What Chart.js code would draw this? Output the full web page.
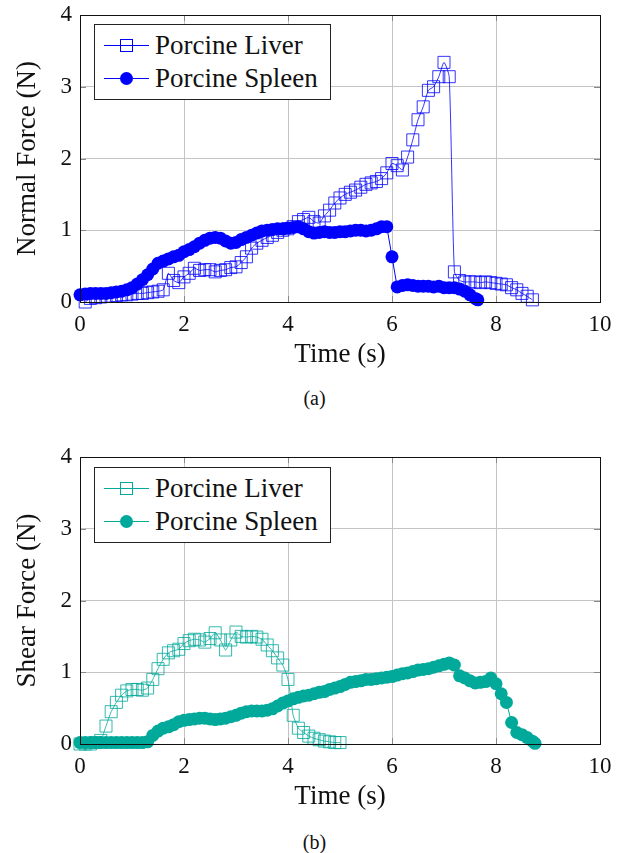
<!DOCTYPE html>
<html>
<head>
<meta charset="utf-8">
<script src="https://cdn.jsdelivr.net/npm/chart.js@4.4.1/dist/chart.umd.min.js"></script>
<style>
  body { margin: 0; background: #fff; width: 629px; height: 853px; position: relative; overflow: hidden; font-family: "Liberation Serif", serif; }
  .plot { position: absolute; left: 0; width: 629px; height: 380px; }
  .legend { position: absolute; left: 94px; width: 235px; height: 74px; border: 1px solid #222; background: #fff; }
  .legend .row { position: absolute; left: 0; height: 33px; width: 235px; }
  .legend svg { position: absolute; left: 7px; top: 0; }
  .legend span { position: absolute; left: 60px; top: 0; font-size: 27px; line-height: 33px; color: #111; white-space: nowrap; }
  .caption { position: absolute; left: 0; width: 629px; text-align: center; font-size: 20px; color: #111; }
</style>
</head>
<body>

<div class="plot" style="top:0"><canvas id="normal-chart"></canvas></div>
<div class="plot" style="top:442px"><canvas id="shear-chart"></canvas></div>

<div class="legend" style="top:24px" id="legend-a"></div>
<div class="legend" style="top:467px" id="legend-b"></div>

<div class="caption" style="top:387px">(a)</div>
<div class="caption" style="top:831px">(b)</div>

<script>
// (a) normal force
const normalLiverT = [0.1,0.2,0.3,0.4,0.5,0.6,0.7,0.8,0.9,1.0,1.1,1.2,1.3,1.4,1.5,1.6,1.7,1.8,1.9,2.0,2.1,2.2,2.3,2.4,2.5,2.6,2.7,2.8,2.9,3.0,3.1,3.2,3.3,3.4,3.5,3.6,3.7,3.8,3.9,4.0,4.1,4.2,4.3,4.4,4.5,4.6,4.7,4.8,4.9,5.0,5.1,5.2,5.3,5.4,5.5,5.6,5.7,5.8,5.9,6.0,6.1,6.2,6.3,6.4,6.5,6.6,6.7,6.8,6.9,7.0,7.1,7.2,7.3,7.4,7.5,7.6,7.7,7.8,7.9,8.0,8.1,8.2,8.3,8.4,8.5,8.6,8.7];
const normalLiver = [0.00,0.05,0.06,0.07,0.08,0.08,0.09,0.10,0.10,0.11,0.12,0.12,0.13,0.14,0.15,0.17,0.40,0.30,0.27,0.35,0.40,0.47,0.44,0.45,0.45,0.42,0.44,0.45,0.48,0.49,0.55,0.63,0.75,0.82,0.86,0.90,0.93,0.97,1.00,1.02,1.05,1.12,1.15,1.18,1.12,1.10,1.20,1.28,1.38,1.45,1.50,1.53,1.56,1.60,1.64,1.66,1.68,1.72,1.80,1.93,1.90,1.84,2.02,2.26,2.54,2.72,2.95,3.00,3.14,3.34,3.14,0.42,0.30,0.28,0.28,0.28,0.27,0.28,0.27,0.26,0.25,0.24,0.20,0.17,0.12,0.08,0.03];

const normalSpleenT = [0.0,0.1,0.2,0.3,0.4,0.5,0.6,0.7,0.8,0.9,1.0,1.1,1.2,1.3,1.4,1.5,1.6,1.7,1.8,1.9,2.0,2.1,2.2,2.3,2.4,2.5,2.6,2.7,2.8,2.9,3.0,3.1,3.2,3.3,3.4,3.5,3.6,3.7,3.8,3.9,4.0,4.1,4.2,4.3,4.4,4.5,4.6,4.7,4.8,4.9,5.0,5.1,5.2,5.3,5.4,5.5,5.6,5.7,5.8,5.9,6.0,6.1,6.2,6.3,6.4,6.5,6.6,6.7,6.8,6.9,7.0,7.1,7.2,7.3,7.4,7.5,7.6,7.65];
const normalSpleen = [0.10,0.11,0.12,0.12,0.12,0.12,0.13,0.14,0.15,0.17,0.20,0.25,0.31,0.38,0.46,0.54,0.57,0.60,0.63,0.65,0.70,0.73,0.77,0.82,0.86,0.89,0.90,0.89,0.85,0.82,0.83,0.87,0.90,0.93,0.96,0.99,1.00,1.01,1.02,1.02,1.03,1.04,1.05,1.02,0.98,0.96,0.97,0.98,0.97,0.97,0.98,0.98,0.99,1.00,1.00,0.99,1.00,1.02,1.05,1.05,0.63,0.21,0.23,0.24,0.23,0.22,0.22,0.22,0.21,0.22,0.20,0.20,0.20,0.18,0.15,0.10,0.05,0.03];

// (b) shear force
const shearLiverT = [0.0,0.1,0.2,0.3,0.4,0.5,0.6,0.7,0.8,0.9,1.0,1.1,1.2,1.3,1.4,1.5,1.6,1.7,1.8,1.9,2.0,2.1,2.2,2.3,2.4,2.5,2.6,2.7,2.8,2.9,3.0,3.1,3.2,3.3,3.4,3.5,3.6,3.7,3.8,3.9,4.0,4.1,4.2,4.3,4.4,4.5,4.6,4.7,4.8,4.9,5.0];
const shearLiver = [0.00,0.00,0.00,0.02,0.05,0.25,0.45,0.58,0.68,0.74,0.76,0.76,0.75,0.78,0.90,1.05,1.18,1.27,1.30,1.32,1.40,1.44,1.46,1.45,1.42,1.47,1.55,1.45,1.31,1.45,1.56,1.50,1.49,1.50,1.49,1.46,1.38,1.30,1.20,1.10,0.90,0.40,0.22,0.16,0.11,0.08,0.06,0.04,0.03,0.02,0.02];

const shearSpleenT = [0.0,0.1,0.2,0.3,0.4,0.5,0.6,0.7,0.8,0.9,1.0,1.1,1.2,1.3,1.4,1.5,1.6,1.7,1.8,1.9,2.0,2.1,2.2,2.3,2.4,2.5,2.6,2.7,2.8,2.9,3.0,3.1,3.2,3.3,3.4,3.5,3.6,3.7,3.8,3.9,4.0,4.1,4.2,4.3,4.4,4.5,4.6,4.7,4.8,4.9,5.0,5.1,5.2,5.3,5.4,5.5,5.6,5.7,5.8,5.9,6.0,6.1,6.2,6.3,6.4,6.5,6.6,6.7,6.8,6.9,7.0,7.1,7.2,7.3,7.4,7.5,7.6,7.7,7.8,7.9,8.0,8.1,8.2,8.3,8.4,8.5,8.6,8.7,8.75];
const shearSpleen = [0.02,0.02,0.02,0.02,0.02,0.02,0.02,0.02,0.02,0.02,0.02,0.02,0.02,0.03,0.12,0.18,0.22,0.24,0.27,0.31,0.33,0.34,0.35,0.36,0.36,0.35,0.34,0.35,0.36,0.38,0.40,0.43,0.45,0.46,0.46,0.46,0.47,0.49,0.53,0.57,0.60,0.63,0.65,0.67,0.68,0.70,0.72,0.73,0.76,0.78,0.80,0.83,0.86,0.87,0.88,0.90,0.90,0.91,0.92,0.93,0.94,0.96,0.98,0.99,1.01,1.03,1.04,1.05,1.07,1.09,1.11,1.13,1.10,0.95,0.92,0.88,0.85,0.86,0.87,0.92,0.84,0.70,0.58,0.30,0.16,0.13,0.09,0.04,0.01];

const xTicks = [0, 2, 4, 6, 8, 10];
const yTicks = [0, 1, 2, 3, 4];
const seriesNames = ['Porcine Liver', 'Porcine Spleen'];

const BLUE = '#0000ff';
const TEAL = '#00a99a';
const SERIF = '"Liberation Serif", "Times New Roman", serif';

function pairs(ts, vs) {
    return ts.map((t, i) => ({ x: t, y: vs[i] }));
}

function fade(hex, a) {
    const n = parseInt(hex.slice(1), 16);
    return `rgba(${n >> 16}, ${(n >> 8) & 255}, ${n & 255}, ${a})`;
}

// frame and inward tick marks like pgfplots
const axisFrame = {
    id: 'axisFrame',
    beforeDatasetsDraw(chart) {
        const { ctx, chartArea: a, scales: { x, y } } = chart;
        ctx.save();
        ctx.strokeStyle = '#888';
        ctx.lineWidth = 1;
        ctx.beginPath();
        xTicks.forEach(v => {
            const px = Math.round(x.getPixelForValue(v)) + 0.5;
            ctx.moveTo(px, a.top); ctx.lineTo(px, a.top + 6);
            ctx.moveTo(px, a.bottom); ctx.lineTo(px, a.bottom - 6);
        });
        yTicks.forEach(v => {
            const py = Math.round(y.getPixelForValue(v)) + 0.5;
            ctx.moveTo(a.left, py); ctx.lineTo(a.left + 6, py);
            ctx.moveTo(a.right, py); ctx.lineTo(a.right - 6, py);
        });
        ctx.stroke();
        ctx.restore();
    },
    afterDraw(chart) {
        const { ctx, chartArea: a } = chart;
        ctx.save();
        ctx.strokeStyle = '#111';
        ctx.lineWidth = 1;
        ctx.strokeRect(Math.round(a.left) + 0.5, Math.round(a.top) + 0.5, Math.round(a.right - a.left), Math.round(a.bottom - a.top));
        ctx.restore();
    }
};

function makeChart(canvasId, color, liverT, liver, spleenT, spleen, yTitle) {
    const ctx = document.getElementById(canvasId).getContext('2d');
    return new Chart(ctx, {
        type: 'line',
        data: {
            datasets: [{
                label: seriesNames[1],
                data: pairs(spleenT, spleen),
                borderColor: color,
                borderWidth: 1,
                pointStyle: 'circle',
                pointRadius: 6.5,
                pointBackgroundColor: color,
                pointBorderColor: color,
                pointBorderWidth: 0,
                tension: 0,
                clip: false
            }, {
                label: seriesNames[0],
                data: pairs(liverT, liver),
                borderColor: color,
                borderWidth: 0.8,
                pointStyle: 'rect',
                pointRadius: 8.5,
                pointBackgroundColor: 'rgba(0,0,0,0)',
                pointBorderColor: fade(color, 0.8),
                pointBorderWidth: 1,
                tension: 0.2,
                clip: false
            }]
        },
        options: {
            responsive: false,
            animation: false,
            events: [],
            layout: { padding: { top: 15, right: 29, left: 0, bottom: 0 } },
            plugins: { legend: { display: false }, tooltip: { enabled: false } },
            scales: {
                x: {
                    type: 'linear', min: 0, max: 10,
                    afterBuildTicks: s => { s.ticks = xTicks.map(v => ({ value: v })); },
                    afterFit: s => { s.height = 78; s.paddingLeft = 0; s.paddingRight = 0; },
                    grid: { color: '#c4c4c4', lineWidth: 1, drawTicks: false },
                    border: { display: false },
                    ticks: { color: '#111', padding: 9, maxRotation: 0, font: { family: SERIF, size: 23 } },
                    title: { display: true, text: 'Time (s)', color: '#111', padding: { top: 0, bottom: 9 }, font: { family: SERIF, size: 27 } }
                },
                y: {
                    type: 'linear', min: 0, max: 4,
                    afterBuildTicks: s => { s.ticks = yTicks.map(v => ({ value: v })); },
                    afterFit: s => { s.width = 80; s.paddingTop = 0; s.paddingBottom = 0; },
                    grid: { color: '#c4c4c4', lineWidth: 1, drawTicks: false },
                    border: { display: false },
                    ticks: { color: '#111', padding: 8, font: { family: SERIF, size: 23 } },
                    title: { display: true, text: yTitle, color: '#111', padding: { top: 12, bottom: 0 }, font: { family: SERIF, size: 27 } }
                }
            }
        },
        plugins: [axisFrame]
    });
}

function buildLegend(elId, color) {
    const el = document.getElementById(elId);
    const rows = [
        `<line x1="2" y1="16.5" x2="47" y2="16.5" stroke="${color}" stroke-width="1"/><rect x="18.5" y="10.5" width="12" height="12" fill="none" stroke="${color}" stroke-width="1"/>`,
        `<line x1="2" y1="16.5" x2="47" y2="16.5" stroke="${color}" stroke-width="1"/><circle cx="24.5" cy="16.5" r="6.5" fill="${color}"/>`
    ];
    rows.forEach((svg, i) => {
        const row = document.createElement('div');
        row.className = 'row';
        row.style.top = (4 + i * 33) + 'px';
        row.innerHTML = `<svg width="50" height="33">${svg}</svg><span>${seriesNames[i]}</span>`;
        el.appendChild(row);
    });
}

document.querySelectorAll('canvas').forEach(c => { c.width = 629; c.height = 380; });

makeChart('normal-chart', BLUE, normalLiverT, normalLiver, normalSpleenT, normalSpleen, 'Normal Force (N)');
makeChart('shear-chart', TEAL, shearLiverT, shearLiver, shearSpleenT, shearSpleen, 'Shear Force (N)');
buildLegend('legend-a', BLUE);
buildLegend('legend-b', TEAL);
</script>
</body>
</html>
